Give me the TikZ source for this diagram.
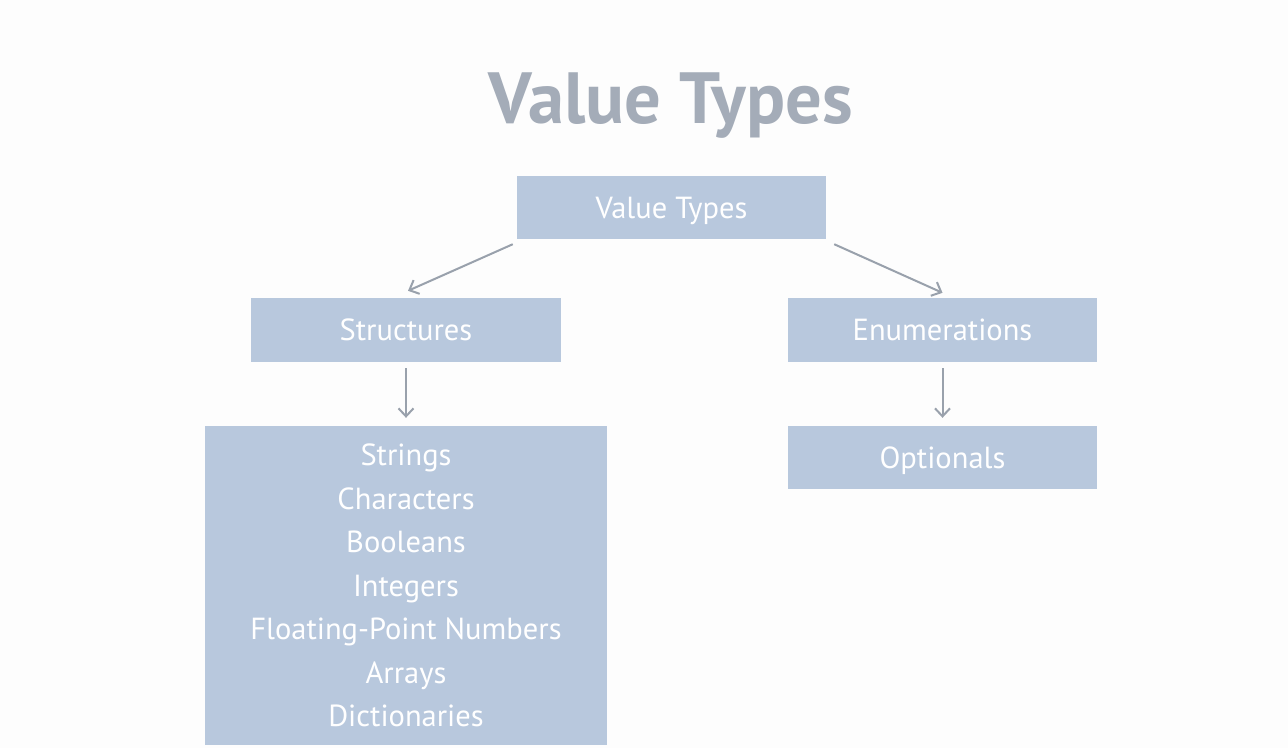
\documentclass[tikz,border=0pt]{standalone}
\usepackage{fontspec}
\setmainfont{PT Sans}
\usetikzlibrary{arrows.meta}
\definecolor{boxfill}{HTML}{B8C8DD}
\definecolor{titlegray}{HTML}{A4ACB8}
\definecolor{arrowgray}{HTML}{99A1AC}
\definecolor{bg}{HTML}{FDFDFD}
\begin{document}
\begin{tikzpicture}[x=1pt,y=-1pt,
  box/.style={fill=boxfill,text=white,inner sep=0pt,font=\fontsize{30.5}{43.5}\selectfont},
  onebox/.style={box,text height=21pt,text depth=0pt},
  arr/.style={draw=arrowgray,line width=2pt,-{Straight Barb[length=8pt,width=15pt]}}]
\fill[bg] (0,0) rectangle (1288,748);
\useasboundingbox (0,0) rectangle (1288,748);
\node[text=titlegray,font=\fontsize{72.5}{80}\bfseries\selectfont] (title) at (671,106) {Value Types};
\node[onebox,minimum width=309pt,minimum height=63pt] (top) at (671.5,207.5) {Value Types};
\node[onebox,minimum width=310pt,minimum height=64pt] (struct) at (406,330) {Structures};
\node[onebox,minimum width=309pt,minimum height=64pt] (enum) at (942.5,330) {Enumerations};
\node[onebox,minimum width=309pt,minimum height=63pt] (opt) at (942.5,457.5) {Optionals};
\node[box,minimum width=402pt,minimum height=319pt,align=center] (list) at (406,585.5)
  {Strings\\Characters\\Booleans\\Integers\\Floating-Point Numbers\\Arrays\\Dictionaries};
\draw[arr] ([shift={(-4,5)}]top.south west) -- ([shift={(2,-7)}]struct.north);
\draw[arr] ([shift={(8,5)}]top.south east) -- ([shift={(0,-5)}]enum.north);
\draw[arr] ([shift={(0,6)}]struct.south) -- ([shift={(0,-8)}]list.north);
\draw[arr] ([shift={(0,6)}]enum.south) -- ([shift={(0,-8)}]opt.north);
\end{tikzpicture}
\end{document}
